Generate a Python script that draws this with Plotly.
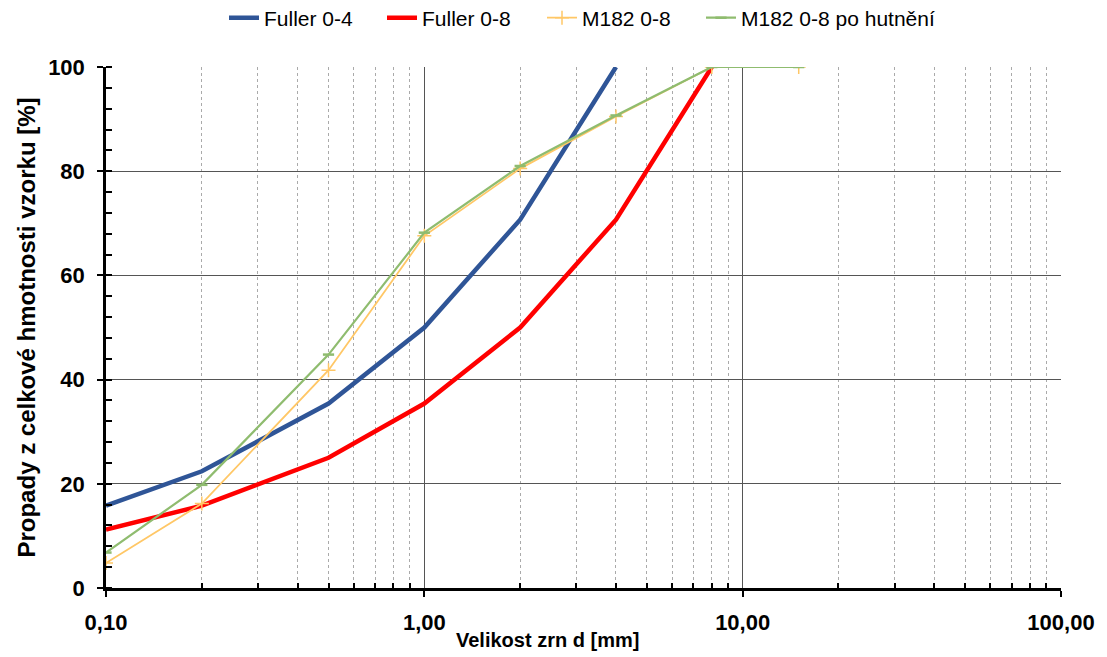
import plotly.graph_objects as go

# Grain sizes [mm] and passing percentages
d_fuller_04 = [0.1, 0.2, 0.5, 1, 2, 4]
p_fuller_04 = [15.8, 22.4, 35.4, 50.0, 70.7, 100.0]

d_fuller_08 = [0.1, 0.2, 0.5, 1, 2, 4, 8]
p_fuller_08 = [11.2, 15.8, 25.0, 35.4, 50.0, 70.7, 100.0]

d_m182 = [0.1, 0.2, 0.5, 1, 2, 4, 8, 15]
p_m182 = [4.8, 16.2, 41.8, 67.6, 80.5, 90.5, 100.0, 100.0]
p_m182_hut = [6.8, 19.8, 44.8, 68.2, 81.0, 90.7, 100.0, 100.0]

x_tickvals = [0.1, 1, 10, 100]
x_ticktext = ["0,10", "1,00", "10,00", "100,00"]
x_minor = [m * 10 ** e for e in (-1, 0, 1) for m in range(2, 10)]

FONT = "Liberation Sans, Arial, sans-serif"
W, H = 1107, 657

fig = go.Figure()
fig.add_trace(go.Scatter(x=d_fuller_04, y=p_fuller_04, mode="lines", name="Fuller 0-4",
                         legend="legend",
                         line=dict(color="#2F5597", width=4.5)))
fig.add_trace(go.Scatter(x=d_fuller_08, y=p_fuller_08, mode="lines", name="Fuller 0-8",
                         legend="legend2",
                         line=dict(color="#FF0000", width=4.5)))
fig.add_trace(go.Scatter(x=d_m182, y=p_m182, mode="lines+markers", name="M182 0-8",
                         legend="legend3",
                         line=dict(color="#FFC766", width=1.8),
                         marker=dict(symbol="cross-thin", size=10,
                                     line=dict(color="#FFC766", width=1.5))))
fig.add_trace(go.Scatter(x=d_m182, y=p_m182_hut, mode="lines+markers", name="M182 0-8 po hutnění",
                         legend="legend4",
                         line=dict(color="#8FBC6F", width=2.2),
                         marker=dict(symbol="line-ew", size=8,
                                     line=dict(color="#8FBC6F", width=2.5))))


def legend_at(px):
    # one single-entry legend per series, placed along the top edge
    return dict(orientation="h", x=px / W, xanchor="left", xref="container",
                y=1 - 18 / H, yanchor="middle", yref="container",
                font=dict(size=21, family=FONT), bgcolor="rgba(0,0,0,0)")


fig.update_layout(
    width=W, height=H,
    margin=dict(l=106, r=43, t=67, b=69),
    paper_bgcolor="white", plot_bgcolor="white",
    font=dict(family=FONT, color="black"),
    showlegend=True,
    legend=legend_at(224),
    legend2=legend_at(382),
    legend3=legend_at(542),
    legend4=legend_at(701),
    xaxis=dict(
        type="log", range=[-1, 2],
        tickvals=x_tickvals, ticktext=x_ticktext,
        tickfont=dict(size=22, family=FONT, weight="bold"),
        showline=True, linecolor="black", linewidth=2.5,
        ticks="outside", ticklen=6, tickwidth=2, tickcolor="black",
        ticklabelstandoff=7,
        showgrid=True, gridcolor="#555555", gridwidth=1,
        minor=dict(tickvals=x_minor, ticks="inside", ticklen=5, tickwidth=1.5,
                   tickcolor="black", showgrid=True, gridcolor="#AAAAAA",
                   griddash="dot", gridwidth=1),
        zeroline=False,
    ),
    yaxis=dict(
        range=[0, 100], tickvals=[0, 20, 40, 60, 80, 100],
        tickfont=dict(size=22, family=FONT, weight="bold"),
        showline=True, linecolor="black", linewidth=2.5,
        ticks="outside", ticklen=6, tickwidth=2, tickcolor="black",
        ticklabelstandoff=8,
        showgrid=True, gridcolor="#555555", gridwidth=1,
        minor=dict(dtick=4, ticks="inside", ticklen=6, tickwidth=1.5, tickcolor="black",
                   showgrid=False),
        title=dict(text="Propady z celkové hmotnosti vzorku [%]",
                   font=dict(size=24, family=FONT, weight="bold"), standoff=6),
        zeroline=False,
    ),
    annotations=[dict(
        text="<b>Velikost zrn d [mm]</b>", xref="paper", yref="paper",
        x=(549 - 106) / 958, y=-52 / 521, xanchor="center", yanchor="middle",
        showarrow=False, font=dict(size=20, family=FONT, color="black"),
    )],
)

fig.write_html("out.html")
